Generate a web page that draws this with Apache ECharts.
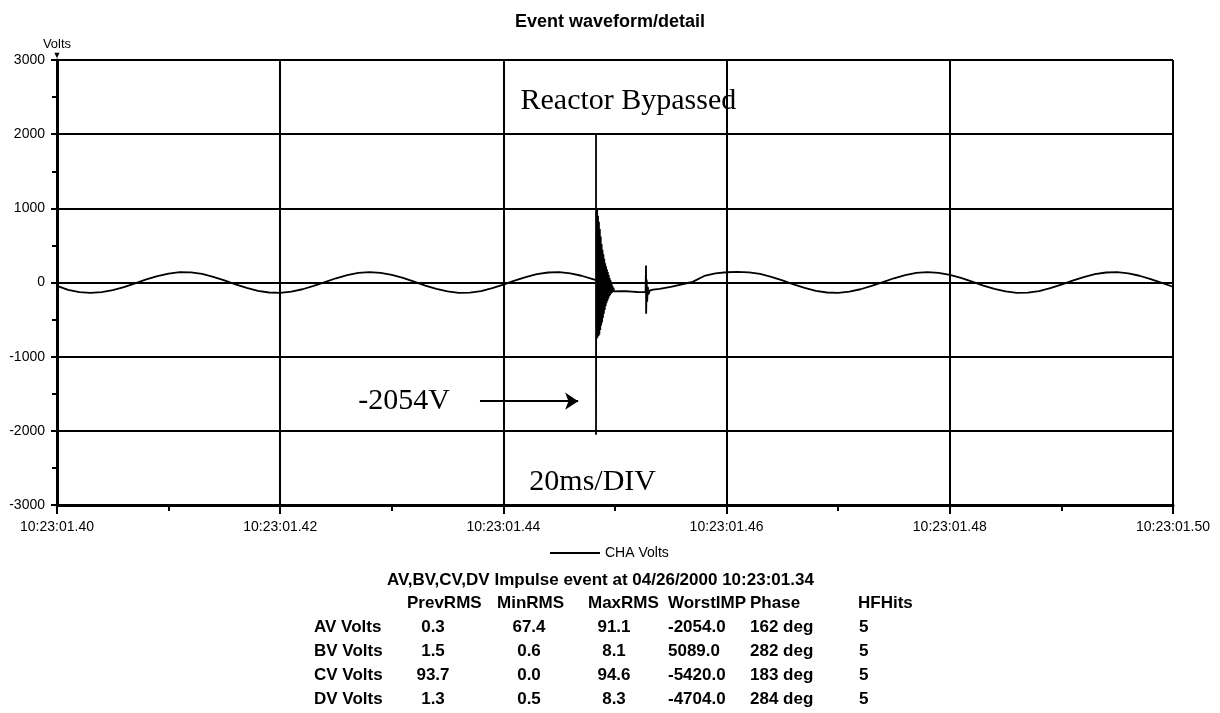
<!DOCTYPE html>
<html>
<head>
<meta charset="utf-8">
<title>Event waveform/detail</title>
<script src="https://cdn.jsdelivr.net/npm/echarts@6.0.0/dist/echarts.min.js"></script>
<style>
  html, body { margin: 0; padding: 0; background: #fff; }
  #chart { width: 1220px; height: 713px; }
</style>
</head>
<body>
<div id="chart"></div>
<script>
// time in ms after 10:23:01.40, volts
const preT = [0, 1, 2, 3, 4, 5, 6, 7, 8, 9, 10, 11, 12, 13, 14, 15, 16, 17, 18, 19, 20,
  21, 22, 23, 24, 25, 26, 27, 28, 29, 30, 31, 32, 33, 34, 35, 36, 37, 38, 39, 40,
  41, 42, 43, 44, 45, 46, 47, 48, 48.3];
const preV = [-45, -100, -129, -140, -131, -104, -62, -11, 41, 87, 121, 139, 136, 115, 77, 29, -24, -73, -112, -135, -139,
  -124, -91, -46, 6, 57, 100, 129, 140, 131, 104, 62, 11, -41, -87, -121, -139, -136, -115, -77, -29,
  24, 73, 112, 135, 139, 124, 91, 46, 31];

// the impulse and ring-down
const burstT = [48.3, 48.3, 48.32, 48.36, 48.4, 48.44, 48.48, 48.52, 48.56, 48.6, 48.64, 48.68, 48.72, 48.76,
  48.8, 48.84, 48.88, 48.92, 48.96, 49.0, 49.04, 49.08, 49.12, 49.16, 49.2, 49.24, 49.28, 49.32,
  49.36, 49.4, 49.44, 49.48, 49.52, 49.56, 49.6, 49.64, 49.68, 49.72, 49.76, 49.8, 49.86, 49.92];
const burstV = [2000, -2054, 980, -760, 1000, -740, 900, -720, 820, -700, 720, -640, 620, -580,
  520, -540, 440, -480, 380, -420, 320, -370, 260, -320, 220, -280, 180, -250,
  140, -220, 100, -190, 60, -170, 30, -150, 0, -140, -40, -130, -70, -120];

const postT = [50, 50.5, 51, 51.5, 52, 52.5, 52.74, 52.78, 52.79, 52.84, 52.88, 52.94, 53, 53.1, 53.4,
  54, 55, 56, 56.7, 57, 58, 59, 60, 61, 62, 63, 64, 65, 66, 67, 68, 69, 70,
  71, 72, 73, 74, 75, 76, 77, 78, 79, 80, 81, 82, 83, 84, 85, 86, 87, 88, 89, 90,
  91, 92, 93, 94, 95, 96, 97, 98, 99, 100];
const postV = [-110, -115, -118, -122, -128, -130, -130, 230, -420, 40, -260, -60, -160, -110, -95,
  -85, -58, -25, 0, 12, 88, 122, 138, 142, 136, 115, 77, 29, -24, -73, -112, -135, -139,
  -124, -91, -46, 6, 57, 100, 129, 140, 131, 104, 62, 11, -41, -87, -121, -139, -136, -115, -77, -29,
  24, 73, 112, 135, 139, 124, 91, 46, -6, -57];

const xTickLabels = ["10:23:01.40", "10:23:01.42", "10:23:01.44", "10:23:01.46", "10:23:01.48", "10:23:01.50"];

const noteTexts = ["Reactor Bypassed", "-2054V", "20ms/DIV"];
const noteT = [51.2, 31.1, 48.0];
const noteV = [2450, -1600, -2690];
const arrowFrom = [37.9, -1600];
const arrowTo = [46.7, -1600];

const tableTitle = "AV,BV,CV,DV Impulse event at 04/26/2000 10:23:01.34";
const tableHeaders = ["PrevRMS", "MinRMS", "MaxRMS", "WorstIMP", "Phase", "HFHits"];
const rowLabels = ["AV Volts", "BV Volts", "CV Volts", "DV Volts"];
const prevRms = [0.3, 1.5, 93.7, 1.3];
const minRms = [67.4, 0.6, 0.0, 0.5];
const maxRms = [91.1, 8.1, 94.6, 8.3];
const worstImp = [-2054.0, 5089.0, -5420.0, -4704.0];
const phaseDeg = [162, 282, 183, 284];
const hfHits = [5, 5, 5, 5];

const SANS = "'Liberation Sans', Arial, sans-serif";
const SERIF = "'Liberation Serif', 'Times New Roman', serif";
const BLACK = "#000";

const zip = (t, v) => t.map((x, i) => [x, v[i]]);
const seriesData = [...zip(preT, preV), ...zip(burstT, burstV), ...zip(postT, postV)];

// table layout
const TABLE_FONT = `bold 17px ${SANS}`;
const headerX = [407, 497, 588, 668, 750, 858];
const colX = [433, 529, 614, 668, 750, 859];
const colAlign = ["center", "center", "center", "left", "left", "left"];
const titleY = 580;
const headerY = 603;
const rowY0 = 627;
const rowStep = 24;
const labelX = 314;

function txt(text, x, y, align) {
  return {
    type: "text",
    silent: true,
    style: { text, x, y, fill: BLACK, font: TABLE_FONT, align: align || "left", verticalAlign: "middle" },
  };
}

const tableGraphics = [txt(tableTitle, 387, titleY)];
tableHeaders.forEach((h, i) => tableGraphics.push(txt(h, headerX[i], headerY)));
rowLabels.forEach((label, r) => {
  const y = rowY0 + r * rowStep;
  const cells = [
    prevRms[r].toFixed(1),
    minRms[r].toFixed(1),
    maxRms[r].toFixed(1),
    worstImp[r].toFixed(1),
    `${phaseDeg[r]} deg`,
    String(hfHits[r]),
  ];
  tableGraphics.push(txt(label, labelX, y));
  cells.forEach((c, i) => tableGraphics.push(txt(c, colX[i], y, colAlign[i])));
});

const chart = echarts.init(document.getElementById("chart"), undefined, { renderer: "canvas" });

chart.setOption({
  animation: false,
  backgroundColor: "#fff",
  title: {
    text: "Event waveform/detail",
    left: "center",
    top: 8,
    textStyle: { fontFamily: SANS, fontSize: 18, fontWeight: "bold", color: BLACK },
  },
  legend: {
    data: [{ name: "CHA Volts", icon: "rect" }],
    left: 545,
    top: 541,
    itemWidth: 50,
    itemHeight: 2,
    textStyle: { fontFamily: SANS, fontSize: 14, color: BLACK },
  },
  grid: { left: 57, right: 47, top: 60, bottom: 208, containLabel: false },
  xAxis: {
    type: "value",
    min: 0,
    max: 100,
    interval: 20,
    axisLine: { onZero: false, lineStyle: { color: BLACK, width: 3 } },
    axisTick: { show: true, length: 9, lineStyle: { color: BLACK, width: 2 } },
    minorTick: { show: true, splitNumber: 2, length: 6, lineStyle: { color: BLACK, width: 2 } },
    axisLabel: {
      color: BLACK,
      fontFamily: SANS,
      fontSize: 14,
      margin: 15,
      formatter: (v) => xTickLabels[Math.round(v / 20)] || "",
    },
    splitLine: { show: true, showMinLine: true, showMaxLine: true, lineStyle: { color: BLACK, width: 2 } },
  },
  yAxis: {
    type: "value",
    min: -3000,
    max: 3000,
    interval: 1000,
    name: "{v|Volts}\n{a|▼}",
    nameLocation: "end",
    nameGap: 0,
    nameMoveOverlap: false,
    nameTextStyle: {
      align: "center",
      rich: {
        v: { fontFamily: SANS, fontSize: 13, color: BLACK, lineHeight: 13 },
        a: { fontFamily: SANS, fontSize: 9, color: BLACK, lineHeight: 9 },
      },
    },
    axisLine: { show: true, onZero: false, lineStyle: { color: BLACK, width: 3 } },
    axisTick: { show: true, length: 6, lineStyle: { color: BLACK, width: 2 } },
    minorTick: { show: true, splitNumber: 2, length: 5, lineStyle: { color: BLACK, width: 2 } },
    axisLabel: {
      color: BLACK,
      fontFamily: SANS,
      fontSize: 14,
      margin: 12,
      formatter: (v) => String(v),
    },
    splitLine: { show: true, showMinLine: true, showMaxLine: true, lineStyle: { color: BLACK, width: 2 } },
  },
  series: [
    {
      name: "CHA Volts",
      type: "line",
      symbol: "none",
      data: seriesData,
      lineStyle: { color: BLACK, width: 1.8 },
      itemStyle: { color: BLACK },
      z: 5,
      markLine: {
        silent: true,
        symbol: ["none", "arrow"],
        symbolSize: 13,
        label: { show: false },
        lineStyle: { color: BLACK, width: 2, type: "solid" },
        data: [[{ coord: arrowFrom }, { coord: arrowTo }]],
      },
      markPoint: {
        silent: true,
        symbol: "rect",
        symbolSize: 1,
        itemStyle: { color: "transparent" },
        label: {
          show: true,
          position: "inside",
          formatter: "{b}",
          color: BLACK,
          fontFamily: SERIF,
          fontSize: 30,
        },
        data: noteTexts.map((name, i) => ({ name, coord: [noteT[i], noteV[i]] })),
      },
    },
  ],
  graphic: tableGraphics,
});
</script>
</body>
</html>
